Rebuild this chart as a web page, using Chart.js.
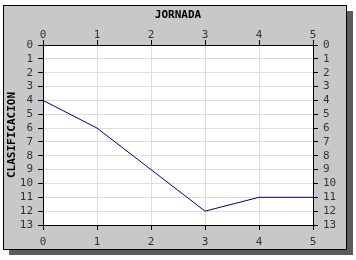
<!DOCTYPE html>
<html><head><meta charset="utf-8">
<script src="https://cdn.jsdelivr.net/npm/chart.js@4"></script>
<style>html,body{margin:0;padding:0;background:#fff}#wrap{width:356px;height:260px}</style>
</head><body><div id="wrap"><canvas id="c" width="356" height="260"></canvas></div>
<script>
const jornadas = [0, 1, 2, 3, 4, 5];
const clasificacion = [4, 6, 9, 12, 11, 11];
const xTitle = 'JORNADA';
const yTitle = 'CLASIFICACION';

const FONT = "'DejaVu Sans Mono', monospace";
const frame = {
  id: 'frame',
  beforeDraw(chart) {
    const ctx = chart.ctx, a = chart.chartArea;
    ctx.save();
    ctx.fillStyle = '#5c5c5c';
    ctx.fillRect(9, 11, 344, 244);
    ctx.fillStyle = '#c8c8c8';
    ctx.fillRect(3, 5, 344, 245);
    ctx.strokeStyle = '#000';
    ctx.lineWidth = 1;
    ctx.strokeRect(3.5, 5.5, 343, 244);
    ctx.fillStyle = '#fff';
    ctx.fillRect(a.left, a.top, a.right - a.left, a.bottom - a.top);
    ctx.restore();
  }
};
const fit = (w, h) => function(s){ if (w !== null) s.width = w; if (h !== null) s.height = h; };
const tickFont = {family: FONT, size: 11};
const xCommon = {type: 'linear', min: 0, max: 5, border: {color: '#000'}};
const yCommon = {type: 'linear', min: 0, max: 13, reverse: true, border: {color: '#000'}};
const yTicks = {stepSize: 1, color: '#333', font: tickFont, padding: 5, autoSkip: false};

new Chart(document.getElementById('c'), {
  type: 'line',
  data: {
    datasets: [{
      data: jornadas.map((j, i) => ({x: j, y: clasificacion[i]})),
      borderColor: '#000080', borderWidth: 1, pointRadius: 0, tension: 0, fill: false,
      xAxisID: 'x', yAxisID: 'y'
    }]
  },
  options: {
    responsive: false, animation: false, devicePixelRatio: 1,
    layout: {padding: 0},
    plugins: {legend: {display: false}, tooltip: {enabled: false}},
    scales: {
      x: Object.assign({}, xCommon, {position: 'top',
        ticks: {stepSize: 1, color: '#333', font: tickFont, padding: -2, maxRotation: 0, autoSkip: false},
        title: {display: true, text: xTitle, color: '#000', font: {family: FONT, size: 11, weight: 'bold'}, padding: {top: 9, bottom: 0}},
        grid: {color: '#dddddd', tickColor: '#000', tickLength: 5},
        afterFit: fit(null, 45)}),
      x2: Object.assign({}, xCommon, {position: 'bottom',
        ticks: {stepSize: 1, color: '#333', font: tickFont, padding: 6, maxRotation: 0, autoSkip: false},
        grid: {drawOnChartArea: false, tickColor: '#000', tickLength: 5},
        afterFit: fit(null, 35)}),
      y: Object.assign({}, yCommon, {position: 'left',
        ticks: yTicks,
        title: {display: true, text: yTitle, color: '#000', font: {family: FONT, size: 11, weight: 'bold'}, padding: {top: 6, bottom: 0}},
        grid: {color: '#dddddd', tickColor: '#000', tickLength: 5},
        afterFit: fit(43, null)}),
      y2: Object.assign({}, yCommon, {position: 'right',
        ticks: yTicks,
        grid: {drawOnChartArea: false, tickColor: '#000', tickLength: 5},
        afterFit: fit(43, null)})
    }
  },
  plugins: [frame]
});
</script></body></html>
